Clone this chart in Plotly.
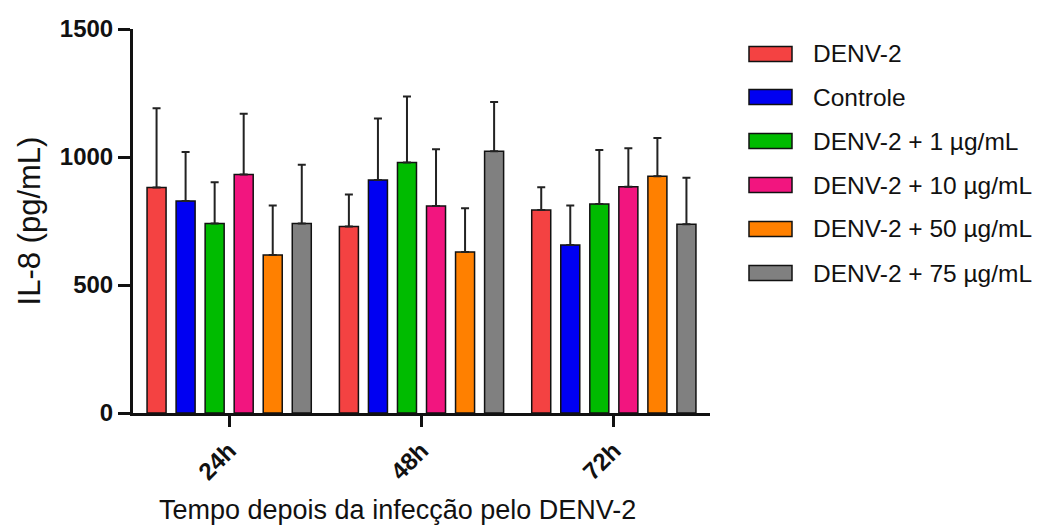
import plotly.graph_objects as go

categories = ["24h", "48h", "72h"]
series_names = ["DENV-2", "Controle", "DENV-2 + 1 µg/mL", "DENV-2 + 10 µg/mL",
                "DENV-2 + 50 µg/mL", "DENV-2 + 75 µg/mL"]
colors = ["#F44242", "#0000F2", "#00BB00", "#F2157F", "#FF8000", "#808080"]
x_title = "Tempo depois da infecção pelo DENV-2"
y_title = "IL-8 (pg/mL)"

denv2 = [881, 729, 793]
denv2_err = [309, 125, 89]
controle = [828, 910, 656]
controle_err = [192, 240, 155]
d1 = [740, 979, 816]
d1_err = [161, 257, 211]
d10 = [932, 809, 884]
d10_err = [237, 221, 150]
d50 = [617, 629, 925]
d50_err = [194, 171, 149]
d75 = [740, 1022, 737]
d75_err = [230, 193, 182]

values = [denv2, controle, d1, d10, d50, d75]
errors = [denv2_err, controle_err, d1_err, d10_err, d50_err, d75_err]

FONT = "Arial, Liberation Sans, sans-serif"
PAGE_OFFSET = 8  # default body margin of the html page

fig = go.Figure()
for name, col, v, e in zip(series_names, colors, values, errors):
    fig.add_trace(go.Bar(
        x=categories, y=v, name=name,
        marker=dict(color=col, line=dict(color="#111111", width=1.5)),
        error_y=dict(type="data", array=e, arrayminus=[0] * len(e), symmetric=False,
                     color="#222222", thickness=2, width=4),
        showlegend=False,
    ))

# custom legend (wide swatches like the reference)
row_px = [54, 97, 141, 185, 229, 273]
plot_top, plot_bottom, plot_left, plot_right = 29, 413, 133, 710
pw = plot_right - plot_left
ph = plot_bottom - plot_top
shapes = []
annotations = []
for name, col, py in zip(series_names, colors, row_px):
    y0 = (plot_bottom - (py + 7.5)) / ph
    y1 = (plot_bottom - (py - 7.5)) / ph
    shapes.append(dict(type="rect", xref="paper", yref="paper",
                       x0=(749 - plot_left) / pw, x1=(792 - plot_left) / pw,
                       y0=y0, y1=y1, fillcolor=col,
                       line=dict(color="#111111", width=1.5)))
    annotations.append(dict(xref="paper", yref="paper",
                            x=(811 - plot_left) / pw, y=(plot_bottom - py) / ph,
                            text=name, showarrow=False, xanchor="left", yanchor="middle",
                            font=dict(family=FONT, size=24.5, color="#111111")))

# x axis title (offset to the left of the axis centre, as in the reference)
annotations.append(dict(xref="paper", yref="paper",
                        x=(397 - plot_left) / pw, y=(plot_bottom - 510) / ph,
                        text=x_title, showarrow=False, xanchor="center", yanchor="middle",
                        font=dict(family=FONT, size=27, color="#111111")))

W, H = 1041, 525
fig.update_layout(
    width=W, height=H,
    margin=dict(l=plot_left - PAGE_OFFSET, r=W - plot_right + PAGE_OFFSET,
                t=plot_top - PAGE_OFFSET, b=H - plot_bottom + PAGE_OFFSET),
    paper_bgcolor="white", plot_bgcolor="white",
    barmode="group", bargap=0.094, bargroupgap=0.345,
    font=dict(family=FONT, color="#111111"),
    shapes=shapes, annotations=annotations,
    xaxis=dict(
        range=[-0.5, 2.5], showline=True, linewidth=3, linecolor="#111111",
        ticks="outside", ticklen=11, tickwidth=3, tickcolor="#111111",
        tickangle=-45, showgrid=False, zeroline=False, automargin=False,
        tickfont=dict(family=FONT, size=24, color="#111111", weight="bold"),
    ),
    yaxis=dict(
        range=[0, 1500], tickvals=[0, 500, 1000, 1500], showline=True, linewidth=3,
        linecolor="#111111", ticks="outside", ticklen=12, tickwidth=3,
        tickcolor="#111111", showgrid=False, zeroline=False, automargin=False,
        tickfont=dict(family=FONT, size=24, color="#111111", weight="bold"),
        title=dict(text=y_title, font=dict(family=FONT, size=31, color="#111111"),
                   standoff=10),
    ),
)

fig.write_html("out.html")
